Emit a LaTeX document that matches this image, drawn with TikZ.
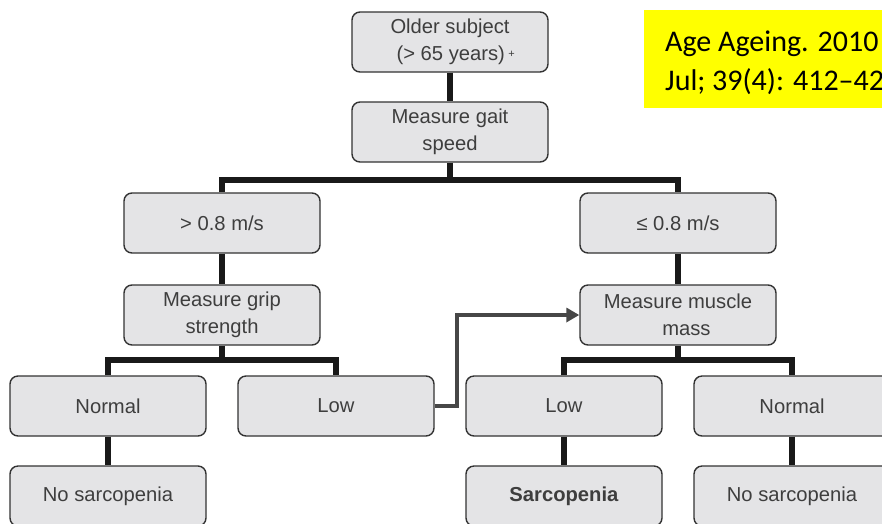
\documentclass[tikz,border=0pt]{standalone}
\usepackage{fontspec}
\setmainfont{Liberation Sans}
\newfontfamily\refcite{Carlito}
\usetikzlibrary{arrows.meta}
\definecolor{boxfill}{HTML}{E4E4E6}
\definecolor{boxline}{HTML}{333333}
\definecolor{boxtext}{HTML}{3E3E3E}
\definecolor{linkgray}{HTML}{474747}
\definecolor{notebg}{HTML}{FFFF00}
\tikzset{
  stepbox/.style={draw=boxline, line width=1.4pt, fill=boxfill, rounded corners=8pt,
    minimum width=196pt, minimum height=60pt, inner sep=2pt, align=center,
    text=boxtext, font=\fontsize{20.2}{27.5}\selectfont},
  tree/.style={line width=6.5pt, draw=black!90, line join=miter},
  jump/.style={line width=3.6pt, draw=linkgray, line join=miter,
    -{Triangle[length=13pt,width=14pt]}},
  cite/.style={anchor=base west, inner sep=0pt, font=\refcite\fontsize{30}{39}\selectfont}
}
\begin{document}
\begin{tikzpicture}[x=1pt,y=-1pt]
  \useasboundingbox (0,0) rectangle (882,523);
  \clip (0,0) rectangle (882,523);
  \fill[white] (0,0) rectangle (882,523);

  % boxes of the decision tree
  \node[stepbox] (older)  at (450,42)  {Older subject\\\ \ (> 65 years)\,{\fontsize{11}{11}\selectfont\raisebox{3pt}{+}}};
  \node[stepbox] (gait)   at (450,132) {Measure gait\\speed};
  \node[stepbox] (fast)   at (222,223) {> 0.8 m/s};
  \node[stepbox] (slow)   at (678,223) {≤ 0.8 m/s};
  \node[stepbox] (grip)   at (222,315) {Measure grip\\strength};
  \node[stepbox] (muscle) at (678,315) {Measure muscle\\\ \ \ mass};
  \node[stepbox] (gripN)  at (108,406) {Normal};
  \node[stepbox] (gripL)  at (336,406) {Low};
  \node[stepbox] (massL)  at (564,406) {Low};
  \node[stepbox] (massN)  at (792,406) {Normal};
  \node[stepbox] (noneA)  at (108,496) {No sarcopenia};
  \node[stepbox] (sarc)   at (564,496) {\textbf{Sarcopenia}};
  \node[stepbox] (noneB)  at (792,496) {No sarcopenia};

  % junction points of the branching bars
  \coordinate (jGait) at (450,180);
  \coordinate (jGrip) at (222,360);
  \coordinate (jMass) at (678,360);

  % tree connectors
  \draw[tree] (older) -- (gait);
  \draw[tree] (gait) -- (jGait);
  \draw[tree] (fast.north) |- (jGait) -| (slow.north);
  \draw[tree] (fast) -- (grip);
  \draw[tree] (slow) -- (muscle);
  \draw[tree] (grip) -- (jGrip);
  \draw[tree] (gripN.north) |- (jGrip) -| (gripL.north);
  \draw[tree] (muscle) -- (jMass);
  \draw[tree] (massL.north) |- (jMass) -| (massN.north);
  \draw[tree] (gripN) -- (noneA);
  \draw[tree] (massL) -- (sarc);
  \draw[tree] (massN) -- (noneB);

  % low grip strength leads on to the muscle mass test
  \draw[jump] (gripL.east) -- ++(22,0) |- (muscle.west);

  % reference note
  \node[fill=notebg, anchor=north west, minimum width=260pt, minimum height=98pt, inner sep=0pt] (note) at (644,10) {};
  \node[cite] (citeA) at (665,51) {Age Ageing. 2010};
  \node[cite] (citeB) at (665,90) {Jul; 39(4): 412–423};
\end{tikzpicture}
\end{document}
